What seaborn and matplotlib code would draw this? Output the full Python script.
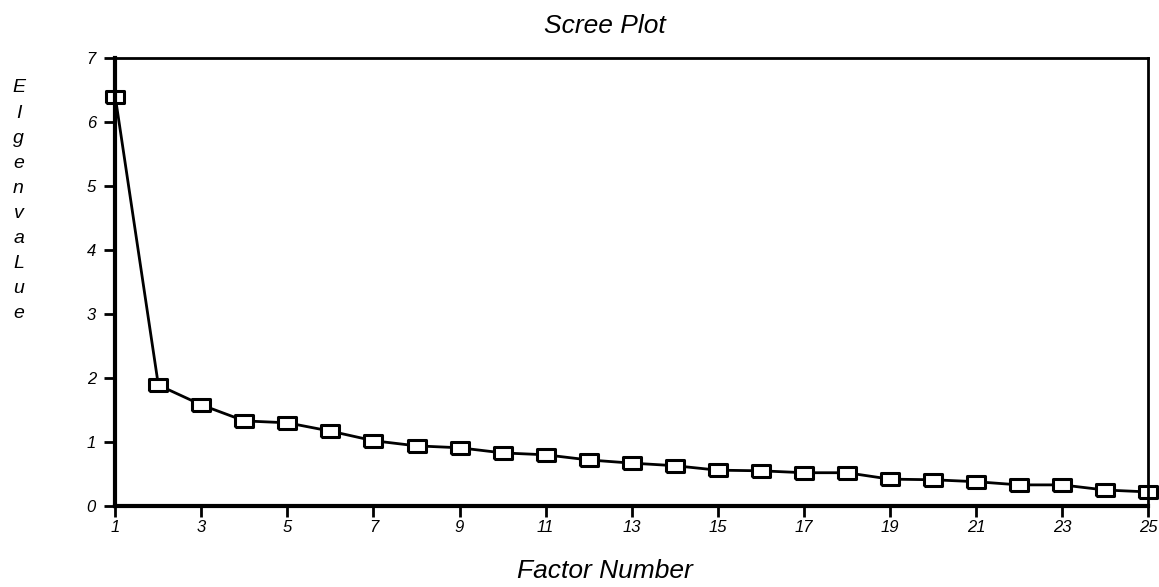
import matplotlib
matplotlib.use("Agg")
import matplotlib.pyplot as plt
import seaborn as sns
import pandas as pd

factor_number = list(range(1, 26))
eigenvalue = [6.39, 1.89, 1.58, 1.33, 1.30, 1.17, 1.02, 0.94, 0.91, 0.83,
              0.80, 0.72, 0.67, 0.63, 0.56, 0.55, 0.52, 0.52, 0.42, 0.41,
              0.38, 0.33, 0.33, 0.25, 0.22]
x_ticks = list(range(1, 26, 2))
y_ticks = list(range(0, 8))

df = pd.DataFrame({"factor": factor_number, "eigen": eigenvalue})

sns.set_style("ticks")
plt.rcParams["font.family"] = ["Liberation Sans", "DejaVu Sans"]
plt.rcParams["font.style"] = "italic"
plt.rcParams["text.color"] = "black"

# open box wider than tall, like the original SPSS output
box = [(-1.4, -1), (1.4, -1), (1.4, 1), (-1.4, 1), (-1.4, -1)]

fig = plt.figure(figsize=(11.59, 5.87), dpi=100)
ax = fig.add_axes([0.0995, 0.138, 0.891, 0.763])

sns.lineplot(data=df, x="factor", y="eigen", ax=ax, color="black", linewidth=2,
             marker=box, markersize=13, markerfacecolor="white",
             markeredgecolor="black", markeredgewidth=2.2, clip_on=False)

ax.set_xlim(1, 25)
ax.set_ylim(0, 7)
ax.set_xticks(x_ticks)
ax.set_yticks(y_ticks)
ax.tick_params(axis="both", direction="out", length=8, width=2, labelsize=12,
               colors="black")
ax.tick_params(axis="x", pad=2)
ax.tick_params(axis="y", pad=6)
for lab in ax.get_xticklabels() + ax.get_yticklabels():
    lab.set_style("italic")

for side in ["left", "bottom"]:
    ax.spines[side].set_linewidth(3)
for side in ["top", "right"]:
    ax.spines[side].set_linewidth(2)
for sp in ax.spines.values():
    sp.set_color("black")
    sp.set_visible(True)

ax.set_xlabel("")
ax.set_ylabel("")

fig.text(0.522, 0.955, "Scree Plot", ha="center", va="center", fontsize=19,
         style="italic")
fig.text(0.522, 0.028, "Factor Number", ha="center", va="center", fontsize=19,
         style="italic")
fig.text(0.016, 0.658, "\n".join("EIgenvaLue"), ha="center", va="center",
         fontsize=14, style="italic", linespacing=1.62)

fig.savefig("out.png", dpi=100)
plt.close()
